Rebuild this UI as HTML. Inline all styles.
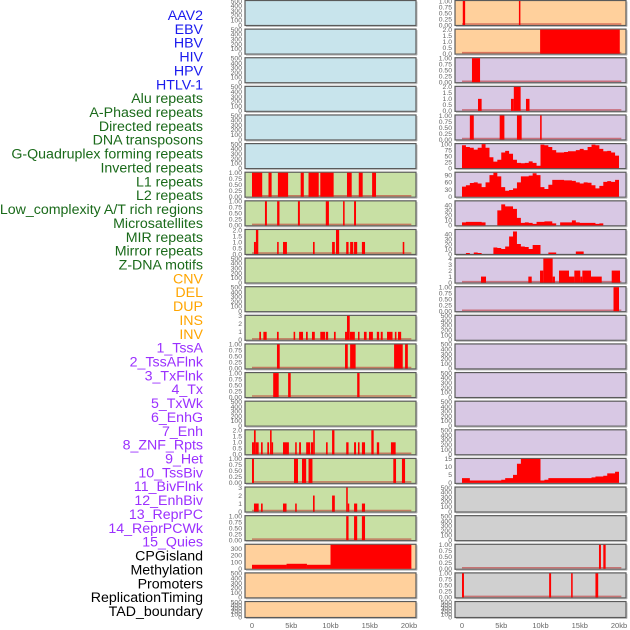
<!DOCTYPE html>
<html><head><meta charset="utf-8"><style>
html,body{margin:0;padding:0;background:#fff;width:630px;height:630px;overflow:hidden}
svg{display:block}
</style></head><body>
<svg id="chart" width="630" height="630" xmlns="http://www.w3.org/2000/svg"></svg>
<script>
// ---- labels ----
const trackLabels = ["AAV2","EBV","HBV","HIV","HPV","HTLV-1","Alu repeats","A-Phased repeats","Directed repeats","DNA transposons","G-Quadruplex forming repeats","Inverted repeats","L1 repeats","L2 repeats","Low_complexity A/T rich regions","Microsatellites","MIR repeats","Mirror repeats","Z-DNA motifs","CNV","DEL","DUP","INS","INV","1_TssA","2_TssAFlnk","3_TxFlnk","4_Tx","5_TxWk","6_EnhG","7_Enh","8_ZNF_Rpts","9_Het","10_TssBiv","11_BivFlnk","12_EnhBiv","13_ReprPC","14_ReprPCWk","15_Quies","CPGisland","Methylation","Promoters","ReplicationTiming","TAD_boundary"];
const labelGroups = ["v","v","v","v","v","v","r","r","r","r","r","r","r","r","r","r","r","r","r","s","s","s","s","s","c","c","c","c","c","c","c","c","c","c","c","c","c","c","c","o","o","o","o","o"];
const xTickLabels = ["0","5kb","10kb","15kb","20kb"];
const xTickValues = [0,5,10,15,20];

// ---- interval series [startKb, endKb, value] ----
const L6 = [[0,1.3,1],[2.1,2.5,1],[3.3,4.6,1],[6.2,6.6,1],[7.2,8.5,1],[8.7,10.4,1],[12.1,12.7,1],[13.6,14.1,1],[15.3,15.8,1]];
const L7 = [[1.65,1.9,1],[3.2,3.5,1],[5.85,6.1,1],[9.4,9.8,1],[11.6,11.8,1],[13.0,13.25,1]];
const L8 = [[0.25,0.5,1],[0.5,0.8,2],[3.2,3.4,1],[3.95,4.45,1],[7.77,7.98,1],[10.2,10.55,1],[10.7,11.1,2],[12.0,12.3,1],[12.5,12.9,1],[13.0,13.4,1],[14.0,14.4,1],[19.2,19.4,1]];
const L11 = [[0.93,1.15,1],[1.45,1.87,1],[3.18,3.4,1],[5.3,5.5,1],[6.0,6.5,1],[6.88,7.1,1],[7.64,8.0,1],[8.7,9.3,1],[9.4,9.7,1],[10.44,10.66,1],[11.85,12.1,1],[12.1,12.45,3],[12.48,13.1,1],[13.5,13.7,1],[14.26,14.6,1],[14.9,15.4,1],[15.9,16.2,1],[16.4,16.65,1],[17.2,17.9,1],[18.2,18.4,1],[18.6,19.0,1]];
const L12 = [[3.18,3.53,1],[11.85,12.2,1],[12.5,13.2,1],[18.1,19.2,1],[19.5,19.85,1]];
const L13 = [[2.7,3.4,1],[4.6,4.93,1],[13.4,13.7,1]];
const L15 = [[0,0.25,1],[0.25,0.47,2],[0.47,0.85,1],[1.15,1.36,1],[1.95,2.17,1],[2.3,2.5,2],[2.5,2.68,1],[3.95,4.7,1],[5.5,5.7,1],[6.0,6.24,1],[6.9,7.4,1],[7.5,7.8,1],[7.8,8.0,2],[9.43,9.64,1],[10.2,10.5,2],[12.0,12.3,1],[13.0,13.25,1],[13.5,13.7,1],[14.0,14.4,1],[15.2,15.5,2],[15.9,16.2,1],[17.7,18.3,1]];
const L16 = [[0,0.25,1],[5.35,5.86,1],[6.37,6.9,1],[7.2,7.7,1],[18.0,18.35,1],[19.1,19.5,1]];
const L17 = [[0.25,0.85,1],[1.15,1.36,1],[3.95,4.4,1],[5.5,5.7,1],[7.77,7.98,2],[10.2,10.55,2],[12.0,12.2,3],[12.2,12.3,1],[13.0,13.4,1],[14.0,14.4,1]];
const L18 = [[12.0,12.3,1],[13.0,13.4,1],[14.0,14.4,1]];
const L19 = [[0,4.4,60],[4.4,7,75],[7,10,60],[10,20.3,360]];
const R0 = [[0.1,0.4,1],[7.25,7.4,1]];
const R1 = [[9.95,20.1,2]];
const R2 = [[1.27,2.3,1]];
const R3 = [[2.04,2.5,1],[6.24,6.6,1],[6.6,7.47,2],[8.15,8.6,1]];
const R4 = [[1.0,1.5,1],[4.8,5.4,1],[7.0,7.6,1],[9.95,10.15,1]];
const R9 = [[2.42,3.06,1],[8.45,8.88,1],[9.94,10.36,2],[10.36,11.55,4],[11.55,11.84,1],[12.36,13.63,2],[13.63,14.31,1],[14.31,15.07,2],[15.07,15.33,1],[15.33,16.43,2],[16.43,17.8,1],[19.07,20.13,2]];
const R10 = [[19.3,20.0,1]];
const R19 = [[17.45,17.7,1],[18.0,18.3,1]];
const R20 = [[0,0.25,1],[11.1,11.35,1],[13.9,14.1,1],[17.0,17.35,1]];

// ---- binned profile series (0.5 kb bins) ----
const R5 = [95,88,85,77,85,100,85,45,27,35,65,72,60,35,22,20,22,28,22,10,98,95,88,75,65,65,67,70,70,75,80,75,88,98,95,80,70,72,65,52];
const R6 = [42,48,57,60,55,40,60,90,100,85,40,25,28,35,60,85,85,88,98,90,40,32,50,70,70,70,68,68,66,60,55,60,58,48,35,45,62,65,62,70];
const R7 = [6,7,7,7,7,6,0,0,0,30,42,38,38,33,15,5,6,5,3,7,7,8,8,4,0,6,6,6,10,6,5,5,5,5,3,4,0,0,0,0];
const R8 = [0,2,0,3,2,0,0,0,13,12,10,15,35,45,20,15,14,10,18,18,0,0,3,3,0,0,0,0,0,5,5,0,0,0,0,0,0,0,0,0];
const R16 = [3,3,1.5,1.5,1.5,1.5,1.5,1.5,1.5,1.5,2,3,3,5,12,15,15,15,15,15,1.5,2,3,3,3,3,3,3,3,3,3,3,3,3.5,4,4,4.5,6,6,7];

// ---- tick label sets ----
const t500 = ["0","100","200","300","400","500"];
const t1 = ["0.00","0.25","0.50","0.75","1.00"];
const t2 = ["0.0","0.5","1.0","1.5","2.0"];
const t3 = ["0","1","2","3"];
const t100 = ["0","25","50","75","100"];

const BL="#c8e4ec",GR="#c8e0a4",PE="#ffd09c",LA="#d8c8e4",GY="#d0d0d0";
const leftPanels = [
 [BL,500,t500,500,null],[BL,500,t500,500,null],[BL,500,t500,500,null],[BL,500,t500,500,null],[BL,500,t500,500,null],[BL,500,t500,500,null],
 [GR,1,t1,1,L6],[GR,1,t1,1,L7],[GR,2,t2,2,L8],[GR,500,t500,500,null],[GR,500,t500,500,null],[GR,3,t3,3,L11],[GR,1,t1,1,L12],[GR,1,t1,1,L13],
 [GR,500,t500,500,null],[GR,2,t2,2,L15],[GR,1,t1,1,L16],[GR,3,t3,3,L17],[GR,1,t1,1,L18],
 [PE,360,["0","100","200","300"],360,L19],[PE,500,t500,500,null],[PE,500,t500,500,null]
];
const rightPanels = [
 [PE,1,t1,1,R0],[PE,2,t2,2,R1],
 [LA,1,t1,1,R2],[LA,2,t2,2,R3],[LA,1,t1,1,R4],[LA,100,t100,100,R5,"bins"],[LA,100,["0","30","60","90"],100,R6,"bins"],
 [LA,48,["0","10","20","30","40"],48,R7,"bins"],[LA,48,["0","10","20","30","40"],48,R8,"bins"],[LA,4,["0","1","2","3","4"],4,R9],
 [LA,1,t1,1,R10],[LA,500,t500,500,null],[LA,500,t500,500,null],[LA,500,t500,500,null],[LA,500,t500,500,null],[LA,500,t500,500,null],
 [LA,15,["0","5","10","15"],15,R16,"bins"],
 [GY,500,t500,500,null],[GY,500,t500,500,null],[GY,1,t1,1,R19],[GY,1,t1,1,R20],[GY,500,t500,500,null]
];

const NS="http://www.w3.org/2000/svg";
const svg=document.getElementById("chart");
function mk(tag,attrs,parent){const e=document.createElementNS(NS,tag);for(const k in attrs)e.setAttribute(k,attrs[k]);(parent||svg).appendChild(e);return e;}
const groupColor={v:"#1a1aee",r:"#1a6a1a",s:"#ffa500",c:"#9b30ff",o:"#000"};

trackLabels.forEach((t,i)=>{
  const el=mk("text",{x:203,y:20+i*13.86,"text-anchor":"end","font-family":"Liberation Sans, sans-serif","font-size":"14.2",fill:groupColor[labelGroups[i]]});
  el.textContent=t;
  
  
});

const PITCH=28.62, PW=171, KB=7.85;
function drawPanel(spec,col,i){
  const [bg,max,ticks,tmax,data,kind]=spec;
  const left=col===0?245:455;
  const top=i*PITCH+0.5;
  const h=i===21?16:25;
  const g=mk("g",{});
  
  
  const r=mk("rect",{x:left,y:top,width:PW,height:h,fill:bg,stroke:"#5a5a5a","stroke-width":1.2},g);
  
  
  mk("line",{x1:left+1,y1:top+h+1,x2:left+PW+1,y2:top+h+1,stroke:"#bbb","stroke-width":1},g);
  mk("line",{x1:left+PW+1,y1:top+1,x2:left+PW+1,y2:top+h+1,stroke:"#bbb","stroke-width":1},g);
  const x0=left+7;
  const xs=kb=>x0+kb*KB;
  const ys=v=>top+h-0.5-Math.min(v,max)/max*(h-1);
  ticks.forEach((t)=>{
    const v=parseFloat(t);
    const y=top+h-0.5-(v/max)*(h-1);
    const tt=mk("text",{x:left-3,y:Math.min(y+2.3,top+h+2),"text-anchor":"end","font-family":"Liberation Sans, sans-serif","font-size":"6.8",fill:"#666"},g);
    tt.textContent=t;
    
    
  });
  if(!data) return;
  if(kind==="bins"){
    let d="M"+xs(0)+","+ys(0);
    data.forEach((v,k)=>{d+=" L"+xs(k*0.5)+","+ys(v)+" L"+xs(k*0.5+0.5)+","+ys(v);});
    d+=" L"+xs(data.length*0.5)+","+ys(0)+"Z";
    const p=mk("path",{d:d,fill:"#ff0000"},g);
    
    
  } else {
    mk("line",{x1:xs(0),y1:top+h-1.5,x2:xs(20.3),y2:top+h-1.5,stroke:"rgba(190,40,40,0.55)","stroke-width":1.5},g);
    data.forEach(([s,e,v])=>{
      const b=mk("rect",{x:xs(s),y:ys(v),width:Math.max(1.5,xs(e)-xs(s)),height:ys(0)-ys(v),fill:"#ff0000"},g);
      
      
    });
  }
}
leftPanels.forEach((s,i)=>drawPanel(s,0,i));
rightPanels.forEach((s,i)=>drawPanel(s,1,i));

[252,462].forEach(x0=>{
  xTickValues.forEach((v,k)=>{
    const t=mk("text",{x:x0+v*KB,y:628,"text-anchor":"middle","font-family":"Liberation Sans, sans-serif","font-size":"7.5",fill:"#666"});
    t.textContent=xTickLabels[k];
    
    
  });
});
</script>
</body></html>
